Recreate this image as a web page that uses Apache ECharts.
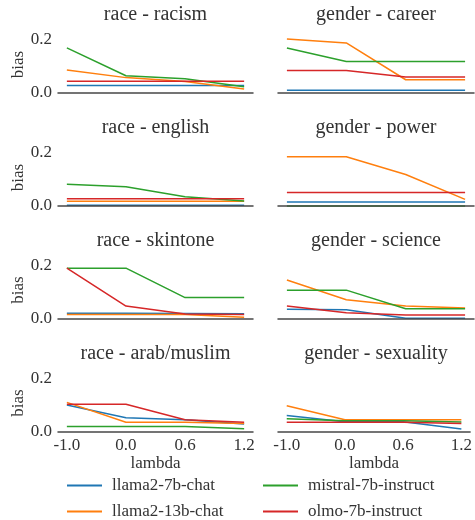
<!DOCTYPE html>
<html><head><meta charset="utf-8">
<script src="https://cdn.jsdelivr.net/npm/echarts@6/dist/echarts.min.js"></script>
<style>html,body{margin:0;padding:0;background:#fff}#c{width:475px;height:520px}</style>
</head><body><div id="c"></div>
<script>
const lambdas = ['-1.0', '0.0', '0.6', '1.2'];
const models = ['llama2-7b-chat', 'llama2-13b-chat', 'mistral-7b-instruct', 'olmo-7b-instruct'];
const panelTitles = ['race - racism', 'gender - career', 'race - english', 'gender - power',
  'race - skintone', 'gender - science', 'race - arab/muslim', 'gender - sexuality'];
// rows: llama2-7b, llama2-13b, mistral, olmo
const raceRacism = [[0.028, 0.028, 0.028, 0.028], [0.087, 0.058, 0.043, 0.015], [0.170, 0.065, 0.054, 0.024], [0.044, 0.044, 0.044, 0.044]];
const genderCareer = [[0.010, 0.010, 0.010, 0.010], [0.204, 0.189, 0.050, 0.050], [0.170, 0.119, 0.119, 0.119], [0.085, 0.085, 0.060, 0.060]];
const raceEnglish = [[0.003, 0.003, 0.003, 0.003], [0.018, 0.018, 0.018, 0.018], [0.082, 0.073, 0.035, 0.019], [0.027, 0.027, 0.027, 0.027]];
const genderPower = [[0.015, 0.015, 0.015, 0.015], [0.186, 0.186, 0.119, 0.025], [0.0, 0.0, 0.0, 0.0], [0.051, 0.051, 0.051, 0.051]];
const raceSkintone = [[0.020, 0.020, 0.019, 0.018], [0.015, 0.015, 0.015, 0.005], [0.190, 0.190, 0.079, 0.079], [0.190, 0.047, 0.017, 0.015]];
const genderScience = [[0.035, 0.033, 0.001, 0.001], [0.145, 0.071, 0.047, 0.040], [0.107, 0.107, 0.037, 0.037], [0.047, 0.022, 0.013, 0.013]];
const raceArab = [[0.100, 0.052, 0.044, 0.028], [0.110, 0.035, 0.035, 0.030], [0.019, 0.019, 0.019, 0.010], [0.103, 0.103, 0.044, 0.035]];
const genderSexuality = [[0.060, 0.037, 0.037, 0.009], [0.097, 0.044, 0.044, 0.044], [0.048, 0.041, 0.041, 0.036], [0.035, 0.035, 0.035, 0.030]];
const yTicks = [0.0, 0.2];

const panels = [raceRacism, genderCareer, raceEnglish, genderPower, raceSkintone, genderScience, raceArab, genderSexuality];
const colors = ['#1f77b4', '#ff7f0e', '#2ca02c', '#d62728'];
const FONT = 'Liberation Serif';
const chart = echarts.init(document.getElementById('c'), null, {renderer: 'canvas'});

const grids = [], xAxes = [], yAxes = [], series = [], graphics = [];
const rowBase = [93, 206, 318.5, 431.5];
const H = 57;
panels.forEach((p, i) => {
  const r = Math.floor(i / 2), c = i % 2;
  const left = c === 0 ? 58 : 278, width = c === 0 ? 195 : 196;
  const y0 = rowBase[r];
  grids.push({left: left, top: y0 - H, width: width, height: H});
  const bottom = r === 3;
  xAxes.push({
    type: 'value', gridIndex: i, min: -0.15, max: 3.15, z: 5,
    axisLine: {show: true, lineStyle: {color: '#474747', width: 1.5}},
    axisTick: {show: false}, splitLine: {show: false},
    axisLabel: {show: bottom, customValues: [0, 1, 2, 3], margin: 6,
      formatter: v => lambdas[Math.round(v)] || '', color: '#333', fontFamily: FONT, fontSize: 17},
    name: bottom ? 'lambda' : '', nameLocation: 'middle', nameGap: 24,
    nameTextStyle: {color: '#333', fontFamily: FONT, fontSize: 17}
  });
  yAxes.push({
    type: 'value', gridIndex: i, min: 0, max: 0.215, interval: 0.2,
    axisLine: {show: false}, axisTick: {show: false}, splitLine: {show: false},
    axisLabel: {show: c === 0, customValues: yTicks, margin: 6,
      formatter: v => v.toFixed(1), color: '#333', fontFamily: FONT, fontSize: 17},
    name: c === 0 ? 'bias' : '', nameLocation: 'middle', nameRotate: 90, nameGap: 30,
    nameTextStyle: {color: '#333', fontFamily: FONT, fontSize: 17}
  });
  graphics.push({type: 'text', x: left + width / 2, y: y0 - 78,
    style: {text: panelTitles[i], font: '20px "' + FONT + '"', fill: '#333', textAlign: 'center', textVerticalAlign: 'middle'}});
  p.forEach((vals, m) => {
    series.push({
      type: 'line', name: models[m], xAxisIndex: i, yAxisIndex: i, z: 2,
      data: vals.map((v, k) => [k, v]), showSymbol: false, symbol: 'none', clip: false,
      lineStyle: {width: 1.5, color: colors[m]}, itemStyle: {color: colors[m]},
      animation: false, emphasis: {disabled: true}
    });
  });
});

const legendPos = [[67, 477], [67, 503], [263, 477], [263, 503]];
const legends = models.map((m, k) => ({
  left: legendPos[k][0], top: legendPos[k][1], data: [m], icon: 'rect', itemWidth: 35, itemHeight: 2,
  padding: 0, selectedMode: false,
  textStyle: {fontFamily: FONT, fontSize: 17, color: '#333', padding: [0, 0, 0, 5]}
}));
option = {
  animation: false,
  grid: grids, xAxis: xAxes, yAxis: yAxes, series: series,
  legend: legends,
  graphic: graphics
};
chart.setOption(option);
</script></body></html>
